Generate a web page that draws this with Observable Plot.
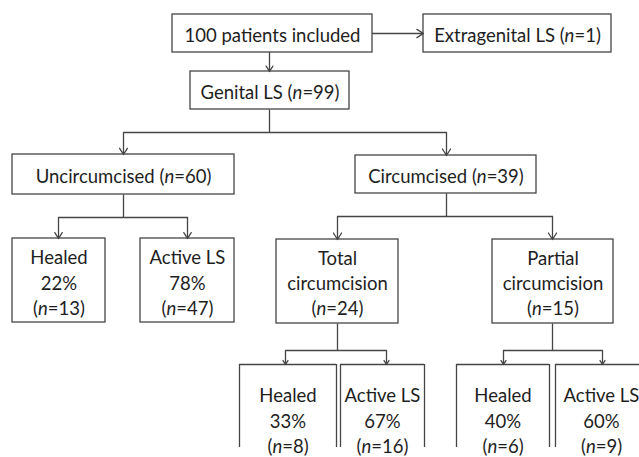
<!DOCTYPE html>
<html>
<head>
<meta charset="utf-8">
<script src="https://cdn.jsdelivr.net/npm/d3@7"></script>
<script src="https://cdn.jsdelivr.net/npm/@observablehq/plot@0.6"></script>
<style>
  html, body { margin: 0; padding: 0; background: #fff; }
  #chart svg { display: block; overflow: hidden; }
</style>
</head>
<body>
<div id="chart"></div>
<script>
// ---- Data ----
const labels = ["patients included", "Extragenital LS", "Genital LS", "Uncircumcised", "Circumcised",
  "Healed", "Active LS", "Total circumcision", "Partial circumcision",
  "Healed", "Active LS", "Healed", "Active LS"];
const counts = [100, 1, 99, 60, 39, 13, 47, 24, 15, 8, 16, 6, 9];
const percents = [null, null, null, null, null, 22, 78, null, null, 33, 67, 40, 60];
const edges = [[0,1],[0,2],[2,3],[2,4],[3,5],[3,6],[4,7],[4,8],[7,9],[7,10],[8,11],[8,12]];

// ---- Layout (positions only) ----
// x1,x2,y1,y2 box; y2 null => open-bottom box; tx,ty text centre; ax arrow/stem x; jy junction y; wrap
const layout = [
  {x1:172, x2:372, y1:14,  y2:52,  tx:272, ty:33,  ax:269},
  {x1:423, x2:611, y1:14,  y2:52,  tx:517, ty:33,  ax:423},
  {x1:190, x2:349, y1:71,  y2:109, tx:269.5, ty:90, ax:269, jy:132},
  {x1:12,  x2:234, y1:154, y2:194, tx:123, ty:174, ax:123, jy:217},
  {x1:355, x2:536, y1:155, y2:193, tx:445.5, ty:174, ax:446, jy:216},
  {x1:12,  x2:105, y1:238, y2:322, tx:58.5, ty:281, ax:58},
  {x1:140, x2:234, y1:238, y2:322, tx:187, ty:281, ax:187},
  {x1:276, x2:398, y1:239, y2:323, tx:337, ty:281.5, ax:337, jy:350, wrap:true},
  {x1:492, x2:613, y1:239, y2:323, tx:552.5, ty:281.5, ax:552, jy:350, wrap:true},
  {x1:239, x2:336, y1:364, y2:null, tx:287.5, ty:419, ax:285},
  {x1:340, x2:424, y1:364, y2:null, tx:382, ty:419, ax:386},
  {x1:456, x2:549, y1:364, y2:null, tx:502.5, ty:419, ax:503},
  {x1:555, x2:649, y1:364, y2:null, tx:601, ty:419, ax:602}
];
const OPEN_BOTTOM = 447;

function nodeText(i) {
  if (i === 0) return `${counts[0]} ${labels[0]}`;
  let label = layout[i].wrap ? labels[i].replace(" ", "\n") : labels[i];
  if (percents[i] != null) return `${label}\n${percents[i]}%\n(n=${counts[i]})`;
  if (layout[i].wrap) return `${label}\n(n=${counts[i]})`;
  return `${label} (n=${counts[i]})`;
}

const nodes = labels.map((d, i) => ({...layout[i], text: nodeText(i)}));
const closed = nodes.filter(d => d.y2 != null);
const open = nodes.filter(d => d.y2 == null);

// connectors
const arrows = [], rules = [];
const children = d3.group(edges, e => e[0]);
for (const [p, es] of children) {
  const P = nodes[p];
  if (p === 0) {
    for (const [, c] of es) {
      const C = nodes[c];
      if (C.y1 === P.y1) arrows.push({x1: P.x2, y1: P.ty, x2: C.x1, y2: P.ty});
      else arrows.push({x1: C.ax, y1: P.y2, x2: C.ax, y2: C.y1});
    }
    continue;
  }
  rules.push({x1: P.ax, y1: P.y2, x2: P.ax, y2: P.jy});
  const xs = es.map(([, c]) => nodes[c].ax);
  rules.push({x1: d3.min(xs), y1: P.jy, x2: d3.max(xs), y2: P.jy});
  for (const [, c] of es) arrows.push({x1: nodes[c].ax, y1: P.jy, x2: nodes[c].ax, y2: nodes[c].y1});
}

const STROKE = "#454545";
const SW = 1.3;

const chart = Plot.plot({
  width: 639,
  height: 457,
  margin: 0,
  x: {domain: [0, 639], range: [0, 639], axis: null},
  y: {domain: [0, 457], range: [0, 457], axis: null},
  style: {fontFamily: "Lato, sans-serif", background: "#fff"},
  marks: [
    Plot.rect(closed, {x1: "x1", x2: "x2", y1: "y1", y2: "y2", fill: "none", stroke: STROKE, strokeWidth: SW}),
    Plot.ruleY(open, {y: "y1", x1: "x1", x2: "x2", stroke: STROKE, strokeWidth: SW}),
    Plot.ruleX(open, {x: "x1", y1: "y1", y2: () => OPEN_BOTTOM, stroke: STROKE, strokeWidth: SW}),
    Plot.ruleX(open, {x: "x2", y1: "y1", y2: () => OPEN_BOTTOM, stroke: STROKE, strokeWidth: SW}),
    Plot.link(rules, {x1: "x1", y1: "y1", x2: "x2", y2: "y2", stroke: STROKE, strokeWidth: SW}),
    Plot.arrow(arrows, {x1: "x1", y1: "y1", x2: "x2", y2: "y2", stroke: STROKE, strokeWidth: SW, headLength: 9, headAngle: 64}),
    Plot.text(nodes, {x: "tx", y: "ty", text: "text", fontSize: 18.5, fill: "#1e1e1e", lineHeight: 1.36, lineAnchor: "middle", textAnchor: "middle"})
  ]
});

// italicise the "n" in "(n=..)"
(function italicize(svg) {
  const walker = document.createTreeWalker(svg, NodeFilter.SHOW_TEXT);
  const list = [];
  while (walker.nextNode()) if (walker.currentNode.nodeValue.includes("(n=")) list.push(walker.currentNode);
  for (const t of list) {
    const v = t.nodeValue, i = v.indexOf("(n="), parent = t.parentNode;
    const it = document.createElementNS("http://www.w3.org/2000/svg", "tspan");
    it.setAttribute("font-style", "italic");
    it.textContent = "n";
    parent.insertBefore(document.createTextNode(v.slice(0, i + 1)), t);
    parent.insertBefore(it, t);
    parent.insertBefore(document.createTextNode(v.slice(i + 2)), t);
    parent.removeChild(t);
  }
})(chart);

document.getElementById("chart").append(chart);
</script>
</body>
</html>
